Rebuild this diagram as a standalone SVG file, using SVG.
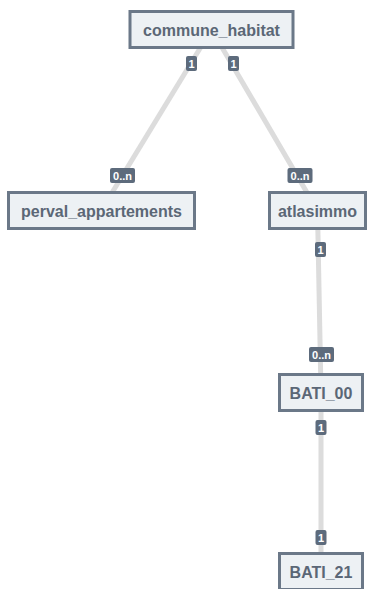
<svg xmlns="http://www.w3.org/2000/svg" width="369" height="589" viewBox="0 0 369 589">
<style>
.node rect{fill:#edf1f4;stroke:#6b7888;stroke-width:3}
.node text{font-family:"Liberation Sans",Arial,sans-serif;font-weight:bold;font-size:16px;fill:#5b6776;text-anchor:middle}
.edge{stroke:#dcdcdc;stroke-width:5;fill:none}
.lbl rect{fill:#5d6b7c}
.lbl text{font-family:"Liberation Sans",Arial,sans-serif;font-weight:bold;font-size:11px;fill:#ffffff;text-anchor:middle}
</style>
<rect width="369" height="589" fill="#ffffff"/>
<g id="connectors">
<line class="edge" x1="211.5" y1="29.5" x2="101.5" y2="210"/>
<line class="edge" x1="211.5" y1="29.5" x2="317.5" y2="210.5"/>
<line class="edge" x1="317.5" y1="210.5" x2="321" y2="392.5"/>
<line class="edge" x1="321" y1="392.5" x2="321" y2="571.5"/>
<g class="lbl"><rect x="186" y="56" width="11" height="15" rx="2"/><text x="191.5" y="67.5">1</text></g>
<g class="lbl"><rect x="228" y="56" width="11" height="15" rx="2"/><text x="233.5" y="67.5">1</text></g>
<g class="lbl"><rect x="110" y="168" width="25" height="15" rx="2"/><text x="122.5" y="179.5">0..n</text></g>
<g class="lbl"><rect x="287.5" y="168" width="25" height="15" rx="2"/><text x="300" y="179.5">0..n</text></g>
<g class="lbl"><rect x="315" y="242" width="11" height="15" rx="2"/><text x="320.5" y="253.5">1</text></g>
<g class="lbl"><rect x="309" y="347" width="25" height="15" rx="2"/><text x="321.5" y="358.5">0..n</text></g>
<g class="lbl"><rect x="315.5" y="420" width="11" height="15" rx="2"/><text x="321" y="431.5">1</text></g>
<g class="lbl"><rect x="315.5" y="530" width="11" height="15" rx="2"/><text x="321" y="541.5">1</text></g>
</g>
<g id="commune_habitat" class="node"><rect x="130" y="11.5" width="163" height="36"/><text x="211.5" y="35.5">commune_habitat</text></g>
<g id="perval_appartements" class="node"><rect x="8.5" y="192.5" width="186" height="36"/><text x="101.5" y="216.5">perval_appartements</text></g>
<g id="atlasimmo" class="node"><rect x="269.5" y="192.5" width="96" height="36"/><text x="317.5" y="216.5">atlasimmo</text></g>
<g id="BATI_00" class="node"><rect x="279.5" y="374.5" width="83" height="36"/><text x="321" y="398.5">BATI_00</text></g>
<g id="BATI_21" class="node"><rect x="279.5" y="553.5" width="83" height="36"/><text x="321" y="577.5">BATI_21</text></g>
</svg>
